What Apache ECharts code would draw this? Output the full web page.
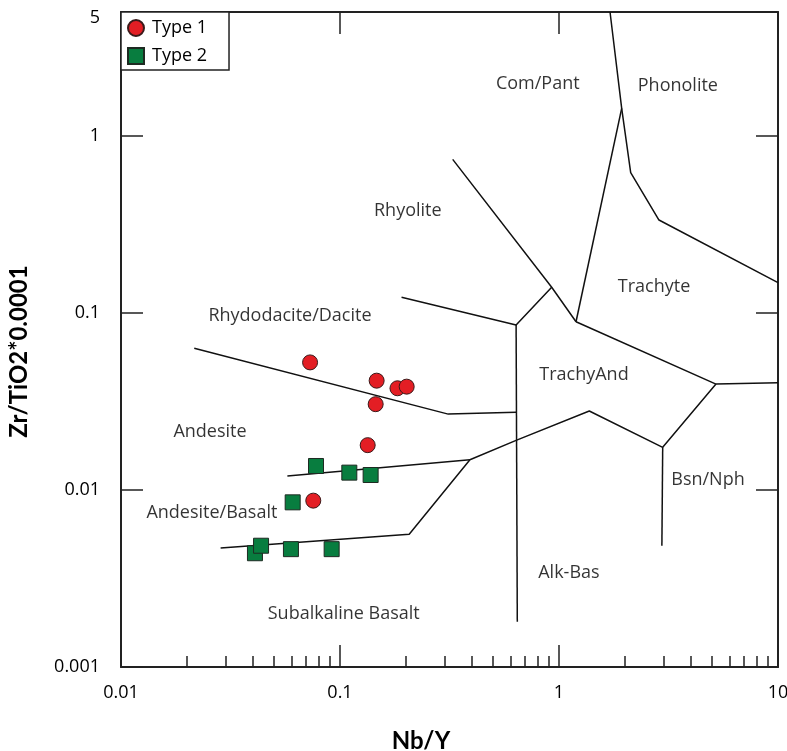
<!DOCTYPE html>
<html>
<head>
<meta charset="utf-8">
<script src="https://cdn.jsdelivr.net/npm/echarts@6/dist/echarts.min.js"></script>
<style>
html, body { margin: 0; padding: 0; background: #fff; }
#chart { width: 787px; height: 751px; }
</style>
</head>
<body>
<div id="chart"></div>
<script>
// sample points, [Nb/Y, Zr/TiO2*0.0001]
const type1 = [
  [0.073, 0.0525], [0.147, 0.0414], [0.183, 0.0375], [0.2016, 0.0383],
  [0.1455, 0.0305], [0.1338, 0.0179], [0.0755, 0.0087]
]
const type2 = [
  [0.0777, 0.01365], [0.1103, 0.01252], [0.138, 0.01214], [0.0608, 0.00851],
  [0.0409, 0.00439], [0.0436, 0.00484], [0.0597, 0.00463], [0.0916, 0.00463]
]

// field boundaries (Winchester & Floyd)
const rhydodaciteLine = [[0.0216, 0.0631], [0.312, 0.0268], [0.637, 0.0275]]
const rhyoliteLine = [[0.327, 0.736], [0.926, 0.1394], [1.196, 0.0891]]
const daciteTopLine = [[0.191, 0.1224], [0.637, 0.0854], [0.926, 0.1394]]
const alkBasLeftLine = [[0.637, 0.0854], [0.645, 0.0018]]
const trachyteLowLine = [[1.196, 0.0891], [5.21, 0.0396], [10, 0.0403]]
const comPantLine = [[1.196, 0.0891], [1.933, 1.429]]
const phonoliteLine = [[1.71, 5], [1.933, 1.429], [2.125, 0.6185], [2.861, 0.3344], [10, 0.148]]
const basaltTopLine = [
  [5.21, 0.0396], [2.975, 0.0174], [1.375, 0.0279], [0.641, 0.0191],
  [0.392, 0.0148], [0.207, 0.00562], [0.0285, 0.0047]
]
const bsnNphLine = [[2.975, 0.0174], [2.95, 0.00484]]
const andBasLine = [[0.392, 0.0148], [0.0575, 0.012]]

const boundaries = [
  rhydodaciteLine, rhyoliteLine, daciteTopLine, alkBasLeftLine, trachyteLowLine,
  comPantLine, phonoliteLine, basaltTopLine, bsnNphLine, andBasLine
]

// field names at their centre, [x, y, name]
const fieldLabels = [
  [0.80, 1.96, 'Com/Pant'],
  [3.49, 1.91, 'Phonolite'],
  [0.204, 0.376, 'Rhyolite'],
  [2.716, 0.1405, 'Trachyte'],
  [0.0591, 0.096, 'Rhydodacite/Dacite'],
  [1.30, 0.0446, 'TrachyAnd'],
  [0.0255, 0.0212, 'Andesite'],
  [4.79, 0.0114, 'Bsn/Nph'],
  [0.026, 0.00743, 'Andesite/Basalt'],
  [1.11, 0.00338, 'Alk-Bas'],
  [0.104, 0.00199, 'Subalkaline Basalt']
]

const xMinorTicks = [
  0.02, 0.03, 0.04, 0.05, 0.06, 0.07, 0.08, 0.09,
  0.2, 0.3, 0.4, 0.5, 0.6, 0.7, 0.8, 0.9,
  2, 3, 4, 5, 6, 7, 8, 9
]

const FONT = '"Open Sans", "Noto Sans", sans-serif'
const TITLE_FONT = 'Lato, "Open Sans", sans-serif'
const FRAME = { lineStyle: { color: '#222', width: 2 } }
const TICK = { color: '#222', width: 1.5 }

function fmt(v) {
  return String(+Number(v).toPrecision(6))
}

// the top label (5) sits a little below the frame in the original
function fmtY(v) {
  const s = fmt(v)
  return Math.abs(v - 5) < 1e-6 ? '{top|' + s + '}' : s
}

const chart = echarts.init(document.getElementById('chart'))

const boundarySeries = boundaries.map((pts, i) => ({
  name: 'boundary' + i,
  type: 'line',
  data: pts,
  symbol: 'none',
  silent: true,
  lineStyle: { color: '#111', width: 1.5 },
  z: 2
}))

chart.setOption({
  animation: false,
  backgroundColor: '#fff',
  textStyle: { fontFamily: FONT },
  grid: { left: 121, right: 9, top: 12, bottom: 84, outerBoundsMode: 'none', containLabel: false },
  legend: {
    data: ['Type 1', 'Type 2'],
    orient: 'vertical',
    left: 121,
    top: 12,
    padding: [7, 22, 5, 6],
    itemWidth: 16,
    itemHeight: 16,
    itemGap: 10,
    backgroundColor: '#fff',
    borderColor: '#222',
    borderWidth: 1.5,
    borderRadius: 0,
    textStyle: { fontSize: 18, color: '#000', fontFamily: FONT, padding: [0, 0, 0, 3] },
    z: 10
  },
  xAxis: [
    {
      type: 'log',
      logBase: 10,
      min: 0.01,
      max: 10,
      position: 'bottom',
      name: 'Nb/Y',
      nameLocation: 'middle',
      nameGap: 62,
      nameTextStyle: { fontSize: 24, fontWeight: 'bold', color: '#000', fontFamily: TITLE_FONT, padding: [0, 57, 0, 0] },
      axisLine: FRAME,
      axisTick: { inside: true, length: 22, lineStyle: TICK },
      axisLabel: { fontSize: 18, color: '#000', margin: 17, formatter: fmt },
      splitLine: { show: false }
    },
    {
      type: 'log',
      logBase: 10,
      min: 0.01,
      max: 10,
      position: 'bottom',
      axisLine: { show: false },
      axisTick: { inside: true, length: 11, customValues: xMinorTicks, lineStyle: TICK },
      axisLabel: { show: false },
      splitLine: { show: false }
    },
    {
      type: 'log',
      logBase: 10,
      min: 0.01,
      max: 10,
      position: 'top',
      axisLine: FRAME,
      axisTick: { inside: true, length: 22, lineStyle: TICK },
      axisLabel: { show: false },
      splitLine: { show: false }
    }
  ],
  yAxis: [
    {
      type: 'log',
      logBase: 10,
      min: 0.001,
      max: 5,
      position: 'left',
      name: 'Zr/TiO2*0.0001',
      nameLocation: 'middle',
      nameGap: 90,
      nameTextStyle: { fontSize: 24, fontWeight: 'bold', color: '#000', fontFamily: TITLE_FONT, padding: [0, 24, 0, 0] },
      axisLine: FRAME,
      axisTick: { inside: true, length: 22, lineStyle: TICK },
      axisLabel: {
        fontSize: 18,
        color: '#000',
        margin: 21,
        formatter: fmtY,
        rich: { top: { fontSize: 18, color: '#000', padding: [12, 0, 0, 0] } }
      },
      splitLine: { show: false }
    },
    {
      type: 'log',
      logBase: 10,
      min: 0.001,
      max: 5,
      position: 'right',
      axisLine: FRAME,
      axisTick: { inside: true, length: 22, lineStyle: TICK },
      axisLabel: { show: false },
      splitLine: { show: false }
    }
  ],
  series: [
    ...boundarySeries,
    {
      name: 'fields',
      type: 'scatter',
      symbolSize: 0,
      silent: true,
      data: fieldLabels.map(d => ({ value: [d[0], d[1]], name: d[2] })),
      label: {
        show: true,
        position: 'inside',
        formatter: p => p.name,
        fontSize: 18,
        color: '#000'
      },
      z: 3
    },
    {
      name: 'Type 1',
      type: 'scatter',
      symbol: 'circle',
      symbolSize: 15,
      data: type1,
      itemStyle: { color: '#e31e24', borderColor: '#3a1a1a', borderWidth: 1, opacity: 1 },
      z: 5
    },
    {
      name: 'Type 2',
      type: 'scatter',
      symbol: 'rect',
      symbolSize: 15,
      data: type2,
      itemStyle: { color: '#087d3f', borderColor: '#1e2a22', borderWidth: 1, opacity: 1 },
      z: 5
    }
  ]
})
</script>
</body>
</html>
